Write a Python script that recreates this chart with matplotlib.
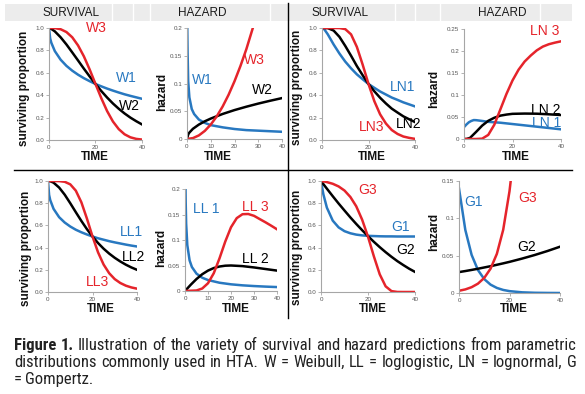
import matplotlib
matplotlib.use("Agg")
import matplotlib.pyplot as plt
from matplotlib import font_manager
from matplotlib.patches import Rectangle
from matplotlib.lines import Line2D

W, H = 585, 394

BLUE = "#2878c0"
RED = "#e5242b"
BLACK = "#000000"

# ---------------- data ----------------
# Weibull survival
w_surv_t = [0, 0.5, 1, 2.5, 5, 7.5, 10, 12.5, 15, 17.5, 20, 22.5, 25, 27.5, 30, 32.5, 35, 37.5, 40]
w1_surv = [1, 0.907, 0.868, 0.794, 0.717, 0.662, 0.619, 0.583, 0.552, 0.525, 0.50, 0.479, 0.459, 0.441, 0.424, 0.408, 0.394, 0.381, 0.368]
w2_surv = [1, 0.997, 0.992, 0.970, 0.917, 0.853, 0.782, 0.710, 0.637, 0.567, 0.50, 0.437, 0.379, 0.326, 0.279, 0.237, 0.200, 0.168, 0.139]
w3_surv = [1, 1, 1, 0.999, 0.989, 0.964, 0.917, 0.844, 0.747, 0.629, 0.50, 0.373, 0.258, 0.165, 0.097, 0.051, 0.024, 0.010, 0.004]

# Weibull hazard
w1_haz_t = [0.12, 0.25, 0.5, 1, 2, 3, 5, 7.5, 10, 15, 20, 25, 30, 35, 40]
w1_haz = [0.2, 0.155, 0.104, 0.075, 0.054, 0.045, 0.035, 0.029, 0.025, 0.021, 0.018, 0.016, 0.015, 0.014, 0.013]
w2_haz_t = [0, 0.5, 1, 2.5, 5, 7.5, 10, 15, 20, 25, 30, 35, 40]
w2_haz = [0, 0.0082, 0.0116, 0.0184, 0.026, 0.0319, 0.0368, 0.0451, 0.0521, 0.0582, 0.0638, 0.0689, 0.0737]
w3_haz_t = [0, 2.5, 5, 7.5, 10, 12.5, 15, 17.5, 20, 22.5, 25, 27.5, 28]
w3_haz = [0, 0.0016, 0.0065, 0.0146, 0.026, 0.0406, 0.0585, 0.0796, 0.104, 0.1315, 0.162, 0.197, 0.204]

# lognormal survival
ln_surv_t = [0, 1, 2.5, 5, 7.5, 10, 12.5, 15, 17.5, 20, 22.5, 25, 27.5, 30, 32.5, 35, 37.5, 40]
ln1_surv = [1, 0.988, 0.943, 0.853, 0.772, 0.700, 0.640, 0.586, 0.542, 0.5, 0.466, 0.433, 0.406, 0.379, 0.358, 0.336, 0.318, 0.30]
ln2_surv = [1, 1, 0.999, 0.977, 0.921, 0.84, 0.752, 0.66, 0.578, 0.5, 0.435, 0.377, 0.326, 0.28, 0.245, 0.211, 0.185, 0.16]
ln3_surv = [1, 1, 1, 1, 0.9995, 0.990, 0.943, 0.831, 0.672, 0.5, 0.347, 0.229, 0.147, 0.089, 0.054, 0.031, 0.019, 0.010]

# lognormal hazard
ln1_haz_t = [0, 1, 2, 3, 4, 5, 7.5, 10, 15, 20, 25, 30, 35, 40]
ln1_haz = [0.027, 0.033, 0.038, 0.041, 0.043, 0.0428, 0.041, 0.039, 0.037, 0.034, 0.031, 0.028, 0.025, 0.022]
ln2_haz_t = [0, 1, 2.5, 5, 7.5, 10, 12.5, 15, 17.5, 20, 25, 30, 35, 40]
ln2_haz = [0, 0, 0.0026, 0.0162, 0.0305, 0.0413, 0.0483, 0.0531, 0.0555, 0.0572, 0.0578, 0.0575, 0.0561, 0.0545]
ln3_haz_t = [0, 5, 7.5, 10, 12.5, 15, 17.5, 20, 22.5, 25, 27.5, 30, 32.5, 35, 37.5, 40]
ln3_haz = [0, 0, 0.0008, 0.0093, 0.0324, 0.0673, 0.1023, 0.133, 0.1575, 0.176, 0.1896, 0.2014, 0.21, 0.2154, 0.219, 0.222]

# loglogistic survival
ll_surv_t = [0, 0.5, 1, 2.5, 5, 7.5, 10, 12.5, 15, 17.5, 20, 22.5, 25, 27.5, 30, 32.5, 35, 37.5, 40]
ll1_surv = [1, 0.874, 0.828, 0.749, 0.674, 0.626, 0.590, 0.561, 0.538, 0.518, 0.5, 0.484, 0.471, 0.458, 0.447, 0.437, 0.427, 0.418, 0.41]
ll2_surv = [1, 1, 0.998, 0.985, 0.941, 0.877, 0.8, 0.719, 0.64, 0.566, 0.5, 0.441, 0.39, 0.346, 0.308, 0.275, 0.246, 0.221, 0.2]
ll3_surv = [1, 1, 1, 1, 0.999, 0.993, 0.970, 0.913, 0.808, 0.661, 0.5, 0.357, 0.247, 0.169, 0.116, 0.081, 0.057, 0.041, 0.030]

# loglogistic hazard
ll1_haz_t = [0.2, 0.3, 0.5, 1, 2, 3, 5, 7.5, 10, 15, 20, 25, 30, 35, 40]
ll1_haz = [0.215, 0.174, 0.132, 0.090, 0.060, 0.047, 0.034, 0.026, 0.0215, 0.0162, 0.0131, 0.0111, 0.0097, 0.0086, 0.0077]
ll2_haz_t = [0, 2.5, 5, 7.5, 10, 12.5, 15, 17.5, 20, 25, 30, 35, 40]
ll2_haz = [0, 0.0123, 0.0235, 0.0329, 0.04, 0.045, 0.048, 0.0496, 0.05, 0.0488, 0.0462, 0.0431, 0.04]
ll3_haz_t = [0, 5, 7.5, 10, 12.5, 15, 17.5, 20, 22.5, 25, 27.5, 30, 32.5, 35, 37.5, 40]
ll3_haz = [0, 0.001, 0.0049, 0.0152, 0.0348, 0.064, 0.0969, 0.125, 0.1429, 0.1506, 0.151, 0.1474, 0.141, 0.1347, 0.128, 0.121]

# Gompertz survival
g_surv_t = [0, 1, 2.5, 5, 7.5, 10, 12.5, 15, 17.5, 20, 22.5, 25, 27.5, 30, 32.5, 35, 37.5, 40]
g1_surv = [1, 0.881, 0.760, 0.643, 0.582, 0.548, 0.529, 0.517, 0.510, 0.506, 0.504, 0.502, 0.501, 0.501, 0.5, 0.5, 0.5, 0.5]
g2_surv = [1, 0.972, 0.931, 0.863, 0.797, 0.734, 0.672, 0.613, 0.557, 0.503, 0.452, 0.404, 0.359, 0.317, 0.278, 0.243, 0.210, 0.181]
g3_surv = [1, 0.997, 0.990, 0.975, 0.951, 0.914, 0.856, 0.772, 0.652, 0.498, 0.321, 0.159, 0.051, 0.008, 0.0004, 0, 0, 0]

# Gompertz hazard
g_haz_t = [0, 2.5, 5, 7.5, 10, 12.5, 15, 17.5, 20, 25, 30, 35, 40]
g1_haz = [0.14, 0.0845, 0.051, 0.0308, 0.0186, 0.0112, 0.0068, 0.0041, 0.0025, 0.0009, 0.0003, 0.0001, 0.0]
g2_haz = [0.028, 0.0294, 0.0309, 0.0325, 0.0342, 0.0359, 0.0378, 0.0397, 0.0417, 0.0461, 0.0509, 0.0562, 0.062]
g3_haz_t = [0, 2.5, 5, 7.5, 10, 12.5, 15, 17.5, 20, 21]
g3_haz = [0.003, 0.0048, 0.0078, 0.0125, 0.0202, 0.0326, 0.0525, 0.0846, 0.1363, 0.165]

surv_ticks = [0, 0.2, 0.4, 0.6, 0.8, 1.0]
surv_ticklabels = ["0.0", "0.2", "0.4", "0.6", "0.8", "1.0"]

caption_lines = [
    [("Figure 1.", "bold"), ("Illustration of the variety of survival and hazard predictions from parametric", "normal")],
    [("distributions commonly used in HTA. W = Weibull, LL = loglogistic, LN = lognormal, G", "normal")],
    [("= Gompertz.", "normal")],
]

# ---------------- fonts ----------------
names = {f.name for f in font_manager.fontManager.ttflist}
SANS = "Liberation Sans" if "Liberation Sans" in names else "DejaVu Sans"
CAP_FONT = SANS
for cand in ["Liberation Sans Narrow", "Roboto Condensed", "Open Sans Condensed"]:
    if cand in names:
        CAP_FONT = cand
        break
plt.rcParams["font.family"] = [SANS, "DejaVu Sans"]

fig = plt.figure(figsize=(W / 100, H / 100), dpi=100)
fig.patch.set_facecolor("white")


def px_axes(x0, y0, x1, y1):
    return fig.add_axes([x0 / W, 1 - y1 / H, (x1 - x0) / W, (y1 - y0) / H])


def ftext(x, y, s, **kw):
    return fig.text(x / W, 1 - y / H, s, **kw)


def style(ax, ylim, yticks, yticklabels, xticks):
    ax.set_xlim(0, 40)
    ax.set_ylim(*ylim)
    ax.set_xticks(xticks)
    ax.set_xticklabels([str(v) for v in xticks])
    ax.set_yticks(yticks)
    ax.set_yticklabels(yticklabels)
    for sp in ["top", "right"]:
        ax.spines[sp].set_visible(False)
    for sp in ["left", "bottom"]:
        ax.spines[sp].set_color("#a6a6a6")
        ax.spines[sp].set_linewidth(0.8)
    ax.tick_params(labelsize=4.5, colors="#a6a6a6", length=2, width=0.6, pad=1.5)
    for lab in ax.get_xticklabels() + ax.get_yticklabels():
        lab.set_color("#555555")
    ax.patch.set_alpha(0)


# header band (spreadsheet look)
fig.patches.append(Rectangle((5 / W, 1 - 21 / H), 567 / W, 17 / H,
                             transform=fig.transFigure, facecolor="#ececec",
                             edgecolor="none", zorder=0))
for xs in [112, 133, 150, 270, 395, 415, 440, 540]:
    fig.lines.append(Line2D([xs / W, xs / W], [1 - 21 / H, 1 - 4 / H],
                            transform=fig.transFigure, color="white", lw=1))

LW = 1.8
kw_lab = dict(ha="center", va="center", fontsize=10)

# ---- panel 1: Weibull survival
ax = px_axes(49, 28, 142, 140)
ax.plot(w_surv_t, w1_surv, color=BLUE, lw=LW)
ax.plot(w_surv_t, w2_surv, color=BLACK, lw=LW)
ax.plot(w_surv_t, w3_surv, color=RED, lw=LW)
style(ax, (0, 1.0), surv_ticks, surv_ticklabels, [0, 20, 40])
ax.text(20.5, 1.0, "W3", color=RED, **kw_lab)
ax.text(33.1, 0.55, "W1", color=BLUE, **kw_lab)
ax.text(34.8, 0.30, "W2", color=BLACK, **kw_lab)

# ---- panel 2: Weibull hazard
ax = px_axes(187, 28, 282, 139)
ax.plot(w1_haz_t, w1_haz, color=BLUE, lw=LW)
ax.plot(w2_haz_t, w2_haz, color=BLACK, lw=LW)
ax.plot(w3_haz_t, w3_haz, color=RED, lw=LW)
style(ax, (0, 0.2), [0, 0.05, 0.1, 0.15, 0.2], ["0", "0.05", "0.1", "0.15", "0.2"], [0, 10, 20, 30, 40])
ax.text(6.3, 0.106, "W1", color=BLUE, **kw_lab)
ax.text(28.3, 0.142, "W3", color=RED, **kw_lab)
ax.text(31.9, 0.088, "W2", color=BLACK, **kw_lab)

# ---- panel 3: lognormal survival
ax = px_axes(322, 28, 415, 140)
ax.plot(ln_surv_t, ln1_surv, color=BLUE, lw=LW)
ax.plot(ln_surv_t, ln2_surv, color=BLACK, lw=LW)
ax.plot(ln_surv_t, ln3_surv, color=RED, lw=LW)
style(ax, (0, 1.0), surv_ticks, surv_ticklabels, [0, 20, 40])
ax.text(34.6, 0.469, "LN1", color=BLUE, **kw_lab)
ax.text(37.4, 0.143, "LN2", color=BLACK, **kw_lab)
ax.text(21.4, 0.112, "LN3", color=RED, **kw_lab)

# ---- panel 4: lognormal hazard
ax = px_axes(464, 29, 561, 139)
ax.plot(ln1_haz_t, ln1_haz, color=BLUE, lw=LW)
ax.plot(ln2_haz_t, ln2_haz, color=BLACK, lw=LW)
ax.plot(ln3_haz_t, ln3_haz, color=RED, lw=LW)
style(ax, (0, 0.25), [0, 0.05, 0.1, 0.15, 0.2, 0.25], ["0", "0.05", "0.1", "0.15", "0.2", "0.25"], [0, 20, 40])
ax.text(33.4, 0.246, "LN 3", color=RED, **kw_lab)
ax.text(33.8, 0.066, "LN 2", color=BLACK, **kw_lab)
ax.text(34.2, 0.036, "LN 1", color=BLUE, **kw_lab)

# ---- panel 5: loglogistic survival
ax = px_axes(48, 181, 137, 292)
ax.plot(ll_surv_t, ll1_surv, color=BLUE, lw=LW)
ax.plot(ll_surv_t, ll2_surv, color=BLACK, lw=LW)
ax.plot(ll_surv_t, ll3_surv, color=RED, lw=LW)
style(ax, (0, 1.0), surv_ticks, surv_ticklabels, [0, 20, 40])
ax.text(37.3, 0.543, "LL1", color=BLUE, **kw_lab)
ax.text(38.4, 0.311, "LL2", color=BLACK, **kw_lab)
ax.text(22.2, 0.086, "LL3", color=RED, **kw_lab)

# ---- panel 6: loglogistic hazard
ax = px_axes(185, 189, 277, 291)
ax.plot(ll1_haz_t, ll1_haz, color=BLUE, lw=LW)
ax.plot(ll2_haz_t, ll2_haz, color=BLACK, lw=LW)
ax.plot(ll3_haz_t, ll3_haz, color=RED, lw=LW)
style(ax, (0, 0.2), [0, 0.05, 0.1, 0.15, 0.2], ["0", "0.05", "0.1", "0.15", "0.2"], [0, 10, 20, 30, 40])
ax.text(9.1, 0.161, "LL 1", color=BLUE, **kw_lab)
ax.text(30.4, 0.164, "LL 3", color=RED, **kw_lab)
ax.text(30.4, 0.063, "LL 2", color=BLACK, **kw_lab)

# ---- panel 7: Gompertz survival
ax = px_axes(321, 181, 415, 292)
ax.plot(g_surv_t, g1_surv, color=BLUE, lw=LW)
ax.plot(g_surv_t, g2_surv, color=BLACK, lw=LW)
ax.plot(g_surv_t, g3_surv, color=RED, lw=LW)
style(ax, (0, 1.0), surv_ticks, surv_ticklabels, [0, 20, 40])
ax.text(19.8, 0.919, "G3", color=RED, **kw_lab)
ax.text(34.0, 0.588, "G1", color=BLUE, **kw_lab)
ax.text(36.2, 0.378, "G2", color=BLACK, **kw_lab)

# ---- panel 8: Gompertz hazard
ax = px_axes(459, 181, 560, 293)
ax.plot(g_haz_t, g1_haz, color=BLUE, lw=LW)
ax.plot(g_haz_t, g2_haz, color=BLACK, lw=LW)
ax.plot(g3_haz_t, g3_haz, color=RED, lw=LW)
style(ax, (0, 0.15), [0, 0.05, 0.1, 0.15], ["0", "0.05", "0.1", "0.15"], [0, 20, 40])
ax.text(5.9, 0.122, "G1", color=BLUE, **kw_lab)
ax.text(27.3, 0.127, "G3", color=RED, **kw_lab)
ax.text(26.9, 0.062, "G2", color=BLACK, **kw_lab)

# ---- titles and axis labels
for x, s in [(71, "SURVIVAL"), (202, "HAZARD"), (340, "SURVIVAL"), (502, "HAZARD")]:
    ftext(x, 13, s, ha="center", va="center", fontsize=8.5, color="#1a1a1a")

kw_ax = dict(ha="center", va="center", fontsize=8.5, weight="bold", color="#111111")
for x, y in [(95, 157), (218, 157), (372, 157), (516, 157),
             (101, 309), (236, 309), (373, 309), (514, 309)]:
    ftext(x, y, "TIME", **kw_ax)
for x, y in [(24, 88), (297, 87), (26, 248), (297, 247)]:
    ftext(x, y, "surviving proportion", rotation=90, **kw_ax)
for x, y in [(162, 92), (434, 89), (161, 248), (434, 232)]:
    ftext(x, y, "hazard", rotation=90, **kw_ax)

# ---- dividers
fig.lines.append(Line2D([288 / W, 288 / W], [1 - 318 / H, 1 - 3 / H],
                        transform=fig.transFigure, color="black", lw=1))
fig.lines.append(Line2D([14 / W, 572 / W], [1 - 170 / H, 1 - 170 / H],
                        transform=fig.transFigure, color="black", lw=1))

# ---- caption, justified between x=14 and x=577
renderer = fig.canvas.get_renderer()
X0, X1 = 14, 577


def caption_words(segs):
    out = []
    for s, wt in segs:
        for wd in s.split(" "):
            out.append((wd, wt))
    return out


def natural_width(words, fs):
    tot = 0
    for wd, wt in words:
        t = fig.text(0, 0, wd, fontsize=fs, weight=wt, family=[CAP_FONT, "DejaVu Sans"])
        tot += t.get_window_extent(renderer).width
        t.remove()
    sp = fig.text(0, 0, "a a", fontsize=fs, family=[CAP_FONT, "DejaVu Sans"])
    spw = sp.get_window_extent(renderer).width
    sp.remove()
    sa = fig.text(0, 0, "aa", fontsize=fs, family=[CAP_FONT, "DejaVu Sans"])
    spw -= sa.get_window_extent(renderer).width
    sa.remove()
    return tot + spw * (len(words) - 1)


# pick the size at which the first line fills the width with normal spacing
base = 10.0
cap_fs = base * (X1 - X0) / natural_width(caption_words(caption_lines[0]), base) * 0.985
cap_fs = min(cap_fs, 12.0)

cap_base = [350, 367, 384]
for li, segs in enumerate(caption_lines):
    words = caption_words(segs)
    arts = []
    for wd, wt in words:
        t = ftext(0, cap_base[li], wd, fontsize=cap_fs, weight=wt, family=[CAP_FONT, "DejaVu Sans"],
                  color="#222222", ha="left", va="baseline")
        arts.append(t)
    widths = [a.get_window_extent(renderer).width for a in arts]
    last = li == len(caption_lines) - 1
    if last or len(arts) == 1:
        gap = cap_fs * 0.28
    else:
        gap = (X1 - X0 - sum(widths)) / (len(arts) - 1)
    x = X0
    for a, wdt in zip(arts, widths):
        a.set_x(x / W)
        x += wdt + gap

fig.savefig("out.png", dpi=100, facecolor="white")
